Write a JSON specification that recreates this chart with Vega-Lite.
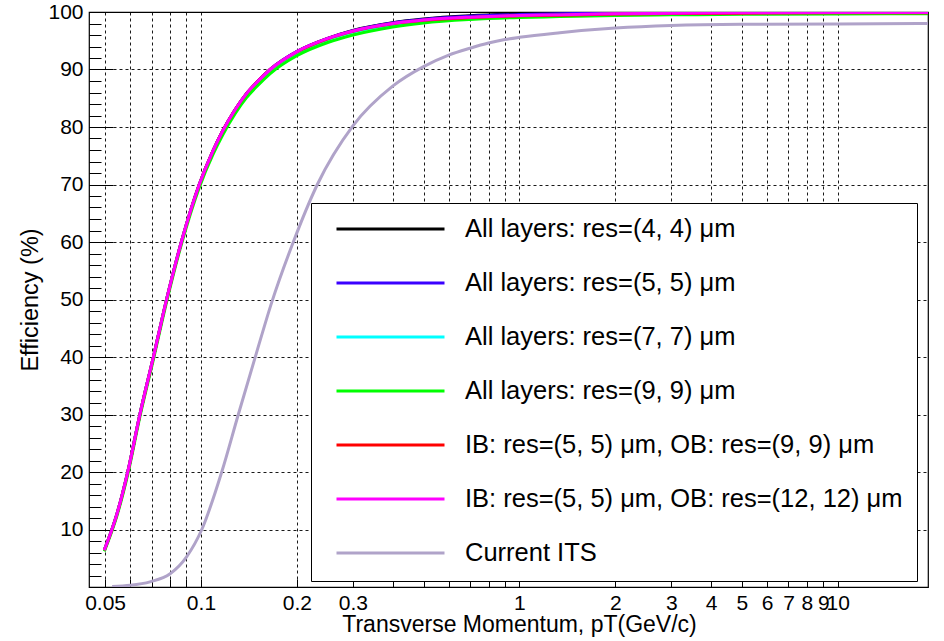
{
  "$schema": "https://vega.github.io/schema/vega-lite/v6.json",
  "width": 839,
  "height": 575,
  "autosize": {"type": "none"},
  "padding": {"left": 89, "top": 12, "right": 16, "bottom": 54},
  "background": "white",
  "config": {
    "font": "Liberation Sans",
    "view": {"stroke": "#000", "strokeWidth": 1.2}
  },
  "datasets": {
    "curves": [
      {"series": "All layers: res=(4, 4) μm", "pt": 0.0497, "eff": 6.4},
      {"series": "All layers: res=(4, 4) μm", "pt": 0.0546, "eff": 12.9},
      {"series": "All layers: res=(4, 4) μm", "pt": 0.0589, "eff": 20},
      {"series": "All layers: res=(4, 4) μm", "pt": 0.0643, "eff": 30},
      {"series": "All layers: res=(4, 4) μm", "pt": 0.0709, "eff": 40},
      {"series": "All layers: res=(4, 4) μm", "pt": 0.078, "eff": 50},
      {"series": "All layers: res=(4, 4) μm", "pt": 0.0868, "eff": 60},
      {"series": "All layers: res=(4, 4) μm", "pt": 0.0988, "eff": 70},
      {"series": "All layers: res=(4, 4) μm", "pt": 0.109, "eff": 75.8},
      {"series": "All layers: res=(4, 4) μm", "pt": 0.117, "eff": 79.3},
      {"series": "All layers: res=(4, 4) μm", "pt": 0.128, "eff": 83},
      {"series": "All layers: res=(4, 4) μm", "pt": 0.139, "eff": 85.8},
      {"series": "All layers: res=(4, 4) μm", "pt": 0.15, "eff": 87.8},
      {"series": "All layers: res=(4, 4) μm", "pt": 0.165, "eff": 90},
      {"series": "All layers: res=(4, 4) μm", "pt": 0.2, "eff": 93.1},
      {"series": "All layers: res=(4, 4) μm", "pt": 0.25, "eff": 95.4},
      {"series": "All layers: res=(4, 4) μm", "pt": 0.3, "eff": 96.8},
      {"series": "All layers: res=(4, 4) μm", "pt": 0.4, "eff": 98.15},
      {"series": "All layers: res=(4, 4) μm", "pt": 0.5, "eff": 98.8},
      {"series": "All layers: res=(4, 4) μm", "pt": 0.7, "eff": 99.35},
      {"series": "All layers: res=(4, 4) μm", "pt": 1, "eff": 99.65},
      {"series": "All layers: res=(4, 4) μm", "pt": 1.34, "eff": 99.8},
      {"series": "All layers: res=(4, 4) μm", "pt": 2, "eff": 99.92},
      {"series": "All layers: res=(4, 4) μm", "pt": 3, "eff": 99.96},
      {"series": "All layers: res=(4, 4) μm", "pt": 5, "eff": 100},
      {"series": "All layers: res=(4, 4) μm", "pt": 10, "eff": 100},
      {"series": "All layers: res=(4, 4) μm", "pt": 19.2, "eff": 100},

      {"series": "All layers: res=(5, 5) μm", "pt": 0.0497, "eff": 6.4},
      {"series": "All layers: res=(5, 5) μm", "pt": 0.0546, "eff": 12.9},
      {"series": "All layers: res=(5, 5) μm", "pt": 0.0589, "eff": 20},
      {"series": "All layers: res=(5, 5) μm", "pt": 0.0643, "eff": 30},
      {"series": "All layers: res=(5, 5) μm", "pt": 0.0709, "eff": 40},
      {"series": "All layers: res=(5, 5) μm", "pt": 0.078, "eff": 50},
      {"series": "All layers: res=(5, 5) μm", "pt": 0.0868, "eff": 60},
      {"series": "All layers: res=(5, 5) μm", "pt": 0.0988, "eff": 70},
      {"series": "All layers: res=(5, 5) μm", "pt": 0.109, "eff": 75.8},
      {"series": "All layers: res=(5, 5) μm", "pt": 0.117, "eff": 79.3},
      {"series": "All layers: res=(5, 5) μm", "pt": 0.128, "eff": 83},
      {"series": "All layers: res=(5, 5) μm", "pt": 0.139, "eff": 85.8},
      {"series": "All layers: res=(5, 5) μm", "pt": 0.15, "eff": 87.8},
      {"series": "All layers: res=(5, 5) μm", "pt": 0.165, "eff": 90},
      {"series": "All layers: res=(5, 5) μm", "pt": 0.2, "eff": 93.1},
      {"series": "All layers: res=(5, 5) μm", "pt": 0.25, "eff": 95.4},
      {"series": "All layers: res=(5, 5) μm", "pt": 0.3, "eff": 96.75},
      {"series": "All layers: res=(5, 5) μm", "pt": 0.4, "eff": 98.1},
      {"series": "All layers: res=(5, 5) μm", "pt": 0.5, "eff": 98.7},
      {"series": "All layers: res=(5, 5) μm", "pt": 0.7, "eff": 99.25},
      {"series": "All layers: res=(5, 5) μm", "pt": 1, "eff": 99.55},
      {"series": "All layers: res=(5, 5) μm", "pt": 1.34, "eff": 99.7},
      {"series": "All layers: res=(5, 5) μm", "pt": 2, "eff": 99.85},
      {"series": "All layers: res=(5, 5) μm", "pt": 3, "eff": 99.92},
      {"series": "All layers: res=(5, 5) μm", "pt": 5, "eff": 99.95},
      {"series": "All layers: res=(5, 5) μm", "pt": 10, "eff": 100},
      {"series": "All layers: res=(5, 5) μm", "pt": 19.2, "eff": 100},

      {"series": "All layers: res=(7, 7) μm", "pt": 0.0497, "eff": 6.4},
      {"series": "All layers: res=(7, 7) μm", "pt": 0.0546, "eff": 12.9},
      {"series": "All layers: res=(7, 7) μm", "pt": 0.0589, "eff": 20},
      {"series": "All layers: res=(7, 7) μm", "pt": 0.0643, "eff": 30},
      {"series": "All layers: res=(7, 7) μm", "pt": 0.0709, "eff": 40},
      {"series": "All layers: res=(7, 7) μm", "pt": 0.078, "eff": 50},
      {"series": "All layers: res=(7, 7) μm", "pt": 0.0868, "eff": 60},
      {"series": "All layers: res=(7, 7) μm", "pt": 0.0988, "eff": 69.9},
      {"series": "All layers: res=(7, 7) μm", "pt": 0.109, "eff": 75.7},
      {"series": "All layers: res=(7, 7) μm", "pt": 0.117, "eff": 79.1},
      {"series": "All layers: res=(7, 7) μm", "pt": 0.128, "eff": 82.8},
      {"series": "All layers: res=(7, 7) μm", "pt": 0.139, "eff": 85.6},
      {"series": "All layers: res=(7, 7) μm", "pt": 0.15, "eff": 87.6},
      {"series": "All layers: res=(7, 7) μm", "pt": 0.165, "eff": 89.8},
      {"series": "All layers: res=(7, 7) μm", "pt": 0.2, "eff": 92.9},
      {"series": "All layers: res=(7, 7) μm", "pt": 0.25, "eff": 95.2},
      {"series": "All layers: res=(7, 7) μm", "pt": 0.3, "eff": 96.5},
      {"series": "All layers: res=(7, 7) μm", "pt": 0.4, "eff": 97.8},
      {"series": "All layers: res=(7, 7) μm", "pt": 0.5, "eff": 98.45},
      {"series": "All layers: res=(7, 7) μm", "pt": 0.7, "eff": 99.0},
      {"series": "All layers: res=(7, 7) μm", "pt": 1, "eff": 99.3},
      {"series": "All layers: res=(7, 7) μm", "pt": 1.34, "eff": 99.45},
      {"series": "All layers: res=(7, 7) μm", "pt": 2, "eff": 99.65},
      {"series": "All layers: res=(7, 7) μm", "pt": 3, "eff": 99.75},
      {"series": "All layers: res=(7, 7) μm", "pt": 5, "eff": 99.8},
      {"series": "All layers: res=(7, 7) μm", "pt": 10, "eff": 99.85},
      {"series": "All layers: res=(7, 7) μm", "pt": 19.2, "eff": 99.85},

      {"series": "All layers: res=(9, 9) μm", "pt": 0.0497, "eff": 6.2},
      {"series": "All layers: res=(9, 9) μm", "pt": 0.0546, "eff": 12.6},
      {"series": "All layers: res=(9, 9) μm", "pt": 0.0589, "eff": 19.6},
      {"series": "All layers: res=(9, 9) μm", "pt": 0.0643, "eff": 29.6},
      {"series": "All layers: res=(9, 9) μm", "pt": 0.0709, "eff": 39.6},
      {"series": "All layers: res=(9, 9) μm", "pt": 0.078, "eff": 49.6},
      {"series": "All layers: res=(9, 9) μm", "pt": 0.0868, "eff": 59.6},
      {"series": "All layers: res=(9, 9) μm", "pt": 0.0988, "eff": 69.5},
      {"series": "All layers: res=(9, 9) μm", "pt": 0.109, "eff": 75.2},
      {"series": "All layers: res=(9, 9) μm", "pt": 0.117, "eff": 78.6},
      {"series": "All layers: res=(9, 9) μm", "pt": 0.128, "eff": 82.3},
      {"series": "All layers: res=(9, 9) μm", "pt": 0.139, "eff": 85.1},
      {"series": "All layers: res=(9, 9) μm", "pt": 0.15, "eff": 87.1},
      {"series": "All layers: res=(9, 9) μm", "pt": 0.165, "eff": 89.3},
      {"series": "All layers: res=(9, 9) μm", "pt": 0.2, "eff": 92.4},
      {"series": "All layers: res=(9, 9) μm", "pt": 0.25, "eff": 94.7},
      {"series": "All layers: res=(9, 9) μm", "pt": 0.3, "eff": 96.0},
      {"series": "All layers: res=(9, 9) μm", "pt": 0.4, "eff": 97.4},
      {"series": "All layers: res=(9, 9) μm", "pt": 0.5, "eff": 98.1},
      {"series": "All layers: res=(9, 9) μm", "pt": 0.7, "eff": 98.7},
      {"series": "All layers: res=(9, 9) μm", "pt": 1, "eff": 99.05},
      {"series": "All layers: res=(9, 9) μm", "pt": 1.34, "eff": 99.2},
      {"series": "All layers: res=(9, 9) μm", "pt": 2, "eff": 99.4},
      {"series": "All layers: res=(9, 9) μm", "pt": 3, "eff": 99.5},
      {"series": "All layers: res=(9, 9) μm", "pt": 5, "eff": 99.6},
      {"series": "All layers: res=(9, 9) μm", "pt": 10, "eff": 99.65},
      {"series": "All layers: res=(9, 9) μm", "pt": 19.2, "eff": 99.7},

      {"series": "IB: res=(5, 5) μm, OB: res=(9, 9) μm", "pt": 0.0497, "eff": 6.4},
      {"series": "IB: res=(5, 5) μm, OB: res=(9, 9) μm", "pt": 0.0546, "eff": 12.9},
      {"series": "IB: res=(5, 5) μm, OB: res=(9, 9) μm", "pt": 0.0589, "eff": 20},
      {"series": "IB: res=(5, 5) μm, OB: res=(9, 9) μm", "pt": 0.0643, "eff": 30},
      {"series": "IB: res=(5, 5) μm, OB: res=(9, 9) μm", "pt": 0.0709, "eff": 40},
      {"series": "IB: res=(5, 5) μm, OB: res=(9, 9) μm", "pt": 0.078, "eff": 50},
      {"series": "IB: res=(5, 5) μm, OB: res=(9, 9) μm", "pt": 0.0868, "eff": 60},
      {"series": "IB: res=(5, 5) μm, OB: res=(9, 9) μm", "pt": 0.0988, "eff": 70},
      {"series": "IB: res=(5, 5) μm, OB: res=(9, 9) μm", "pt": 0.109, "eff": 75.8},
      {"series": "IB: res=(5, 5) μm, OB: res=(9, 9) μm", "pt": 0.117, "eff": 79.3},
      {"series": "IB: res=(5, 5) μm, OB: res=(9, 9) μm", "pt": 0.128, "eff": 83},
      {"series": "IB: res=(5, 5) μm, OB: res=(9, 9) μm", "pt": 0.139, "eff": 85.8},
      {"series": "IB: res=(5, 5) μm, OB: res=(9, 9) μm", "pt": 0.15, "eff": 87.8},
      {"series": "IB: res=(5, 5) μm, OB: res=(9, 9) μm", "pt": 0.165, "eff": 90},
      {"series": "IB: res=(5, 5) μm, OB: res=(9, 9) μm", "pt": 0.2, "eff": 93.05},
      {"series": "IB: res=(5, 5) μm, OB: res=(9, 9) μm", "pt": 0.25, "eff": 95.35},
      {"series": "IB: res=(5, 5) μm, OB: res=(9, 9) μm", "pt": 0.3, "eff": 96.65},
      {"series": "IB: res=(5, 5) μm, OB: res=(9, 9) μm", "pt": 0.4, "eff": 97.95},
      {"series": "IB: res=(5, 5) μm, OB: res=(9, 9) μm", "pt": 0.5, "eff": 98.55},
      {"series": "IB: res=(5, 5) μm, OB: res=(9, 9) μm", "pt": 0.7, "eff": 99.05},
      {"series": "IB: res=(5, 5) μm, OB: res=(9, 9) μm", "pt": 1, "eff": 99.35},
      {"series": "IB: res=(5, 5) μm, OB: res=(9, 9) μm", "pt": 1.34, "eff": 99.45},
      {"series": "IB: res=(5, 5) μm, OB: res=(9, 9) μm", "pt": 2, "eff": 99.65},
      {"series": "IB: res=(5, 5) μm, OB: res=(9, 9) μm", "pt": 3, "eff": 99.72},
      {"series": "IB: res=(5, 5) μm, OB: res=(9, 9) μm", "pt": 5, "eff": 99.8},
      {"series": "IB: res=(5, 5) μm, OB: res=(9, 9) μm", "pt": 10, "eff": 99.85},
      {"series": "IB: res=(5, 5) μm, OB: res=(9, 9) μm", "pt": 19.2, "eff": 99.85},

      {"series": "IB: res=(5, 5) μm, OB: res=(12, 12) μm", "pt": 0.0497, "eff": 6.4},
      {"series": "IB: res=(5, 5) μm, OB: res=(12, 12) μm", "pt": 0.0546, "eff": 12.9},
      {"series": "IB: res=(5, 5) μm, OB: res=(12, 12) μm", "pt": 0.0589, "eff": 20},
      {"series": "IB: res=(5, 5) μm, OB: res=(12, 12) μm", "pt": 0.0643, "eff": 30},
      {"series": "IB: res=(5, 5) μm, OB: res=(12, 12) μm", "pt": 0.0709, "eff": 40},
      {"series": "IB: res=(5, 5) μm, OB: res=(12, 12) μm", "pt": 0.078, "eff": 50},
      {"series": "IB: res=(5, 5) μm, OB: res=(12, 12) μm", "pt": 0.0868, "eff": 60},
      {"series": "IB: res=(5, 5) μm, OB: res=(12, 12) μm", "pt": 0.0988, "eff": 70},
      {"series": "IB: res=(5, 5) μm, OB: res=(12, 12) μm", "pt": 0.109, "eff": 75.8},
      {"series": "IB: res=(5, 5) μm, OB: res=(12, 12) μm", "pt": 0.117, "eff": 79.3},
      {"series": "IB: res=(5, 5) μm, OB: res=(12, 12) μm", "pt": 0.128, "eff": 83},
      {"series": "IB: res=(5, 5) μm, OB: res=(12, 12) μm", "pt": 0.139, "eff": 85.8},
      {"series": "IB: res=(5, 5) μm, OB: res=(12, 12) μm", "pt": 0.15, "eff": 87.8},
      {"series": "IB: res=(5, 5) μm, OB: res=(12, 12) μm", "pt": 0.165, "eff": 90},
      {"series": "IB: res=(5, 5) μm, OB: res=(12, 12) μm", "pt": 0.2, "eff": 93.1},
      {"series": "IB: res=(5, 5) μm, OB: res=(12, 12) μm", "pt": 0.25, "eff": 95.4},
      {"series": "IB: res=(5, 5) μm, OB: res=(12, 12) μm", "pt": 0.3, "eff": 96.7},
      {"series": "IB: res=(5, 5) μm, OB: res=(12, 12) μm", "pt": 0.4, "eff": 98.0},
      {"series": "IB: res=(5, 5) μm, OB: res=(12, 12) μm", "pt": 0.5, "eff": 98.6},
      {"series": "IB: res=(5, 5) μm, OB: res=(12, 12) μm", "pt": 0.7, "eff": 99.1},
      {"series": "IB: res=(5, 5) μm, OB: res=(12, 12) μm", "pt": 1, "eff": 99.4},
      {"series": "IB: res=(5, 5) μm, OB: res=(12, 12) μm", "pt": 1.34, "eff": 99.5},
      {"series": "IB: res=(5, 5) μm, OB: res=(12, 12) μm", "pt": 2, "eff": 99.7},
      {"series": "IB: res=(5, 5) μm, OB: res=(12, 12) μm", "pt": 3, "eff": 99.77},
      {"series": "IB: res=(5, 5) μm, OB: res=(12, 12) μm", "pt": 5, "eff": 99.85},
      {"series": "IB: res=(5, 5) μm, OB: res=(12, 12) μm", "pt": 10, "eff": 99.9},
      {"series": "IB: res=(5, 5) μm, OB: res=(12, 12) μm", "pt": 19.2, "eff": 99.9},

      {"series": "Current ITS", "pt": 0.0526, "eff": 0.1},
      {"series": "Current ITS", "pt": 0.06, "eff": 0.3},
      {"series": "Current ITS", "pt": 0.0692, "eff": 0.9},
      {"series": "Current ITS", "pt": 0.08, "eff": 2.3},
      {"series": "Current ITS", "pt": 0.09, "eff": 5.2},
      {"series": "Current ITS", "pt": 0.1006, "eff": 10},
      {"series": "Current ITS", "pt": 0.1162, "eff": 20},
      {"series": "Current ITS", "pt": 0.131, "eff": 30},
      {"series": "Current ITS", "pt": 0.149, "eff": 40.5},
      {"series": "Current ITS", "pt": 0.1668, "eff": 49.5},
      {"series": "Current ITS", "pt": 0.195, "eff": 60},
      {"series": "Current ITS", "pt": 0.232, "eff": 70},
      {"series": "Current ITS", "pt": 0.3, "eff": 80.2},
      {"series": "Current ITS", "pt": 0.4, "eff": 87.1},
      {"series": "Current ITS", "pt": 0.5, "eff": 90.5},
      {"series": "Current ITS", "pt": 0.6, "eff": 92.5},
      {"series": "Current ITS", "pt": 0.7, "eff": 93.7},
      {"series": "Current ITS", "pt": 0.8, "eff": 94.6},
      {"series": "Current ITS", "pt": 0.9, "eff": 95.2},
      {"series": "Current ITS", "pt": 1, "eff": 95.6},
      {"series": "Current ITS", "pt": 1.34, "eff": 96.4},
      {"series": "Current ITS", "pt": 2, "eff": 97.2},
      {"series": "Current ITS", "pt": 3, "eff": 97.65},
      {"series": "Current ITS", "pt": 5, "eff": 97.85},
      {"series": "Current ITS", "pt": 10, "eff": 97.9},
      {"series": "Current ITS", "pt": 19.2, "eff": 98.0}
    ]
  },
  "data": {"name": "curves"},
  "layer": [
    {
      "transform": [{"filter": "datum.series != 'IB: res=(5, 5) μm, OB: res=(12, 12) μm'"}],
      "mark": {"type": "line", "strokeWidth": 3, "interpolate": "monotone", "clip": true},
      "encoding": {
        "x": {
          "field": "pt", "type": "quantitative",
          "scale": {"type": "log", "domain": [0.0445, 19.2], "nice": false},
          "axis": {
            "orient": "bottom",
            "values": [0.05, 0.06, 0.07, 0.08, 0.09, 0.1, 0.2, 0.3, 0.4, 0.5, 0.6, 0.7, 0.8, 0.9, 1, 2, 3, 4, 5, 6, 7, 8, 9, 10],
            "format": "~g",
            "labelExpr": "indexof([0.05, 0.1, 0.2, 0.3, 1, 2, 3, 4, 5, 6, 7, 8, 9, 10], datum.value) >= 0 ? datum.label : ''",
            "grid": true, "gridColor": "#000", "gridDash": [3, 3], "gridWidth": 1, "gridOpacity": 0.9,
            "ticks": false, "domain": false,
            "labelFontSize": 21, "labelColor": "#000", "labelPadding": 5,
            "labelOverlap": false, "labelFlush": false,
            "title": "Transverse Momentum, pT(GeV/c)",
            "titleFontSize": 23, "titleFontWeight": "normal", "titleColor": "#000",
            "titlePadding": 0, "titleX": 430, "titleAlign": "center"
          }
        },
        "y": {
          "field": "eff", "type": "quantitative",
          "scale": {"domain": [0, 100], "nice": false},
          "axis": {
            "orient": "left",
            "values": [10, 20, 30, 40, 50, 60, 70, 80, 90, 100],
            "grid": true, "gridColor": "#000", "gridDash": [3, 3], "gridWidth": 1, "gridOpacity": 0.9,
            "ticks": false, "domain": false,
            "labelFontSize": 21, "labelColor": "#000", "labelPadding": 6,
            "title": "Efficiency (%)",
            "titleFontSize": 23.5, "titleFontWeight": "normal", "titleColor": "#000", "titlePadding": 5
          }
        },
        "color": {
          "field": "series", "type": "nominal",
          "scale": {
            "domain": [
              "All layers: res=(4, 4) μm",
              "All layers: res=(5, 5) μm",
              "All layers: res=(7, 7) μm",
              "All layers: res=(9, 9) μm",
              "IB: res=(5, 5) μm, OB: res=(9, 9) μm",
              "IB: res=(5, 5) μm, OB: res=(12, 12) μm",
              "Current ITS"
            ],
            "range": ["#000000", "#3a00ff", "#00ffff", "#00ff00", "#ff0000", "#ff00ff", "#b0a3c9"]
          },
          "legend": {
            "orient": "none", "legendX": 222, "legendY": 191,
            "title": null,
            "symbolType": "stroke", "symbolSize": 11664, "symbolStrokeWidth": 3,
            "symbolOffset": 10, "labelOffset": 19,
            "clipHeight": 24,
            "labelFontSize": 25.5, "labelColor": "#000", "labelLimit": 700,
            "rowPadding": 28, "padding": 14,
            "fillColor": "#ffffff", "strokeColor": "#000000"
          }
        }
      }
    },
    {
      "transform": [{"filter": "datum.series == 'IB: res=(5, 5) μm, OB: res=(12, 12) μm'"}],
      "mark": {"type": "line", "strokeWidth": 3, "interpolate": "monotone", "clip": true},
      "encoding": {
        "x": {"field": "pt", "type": "quantitative", "scale": {"type": "log", "domain": [0.0445, 19.2], "nice": false}, "axis": null},
        "y": {"field": "eff", "type": "quantitative", "scale": {"domain": [0, 100], "nice": false}, "axis": null},
        "color": {"field": "series", "type": "nominal"}
      }
    },
    {
      "mark": {"type": "line", "opacity": 0},
      "encoding": {
        "x": {
          "field": "pt", "type": "quantitative",
          "scale": {"type": "log", "domain": [0.0445, 19.2], "nice": false},
          "axis": {
            "orient": "bottom",
            "values": [0.05, 0.06, 0.07, 0.08, 0.09, 0.1, 0.2, 0.3, 0.4, 0.5, 0.6, 0.7, 0.8, 0.9, 1, 2, 3, 4, 5, 6, 7, 8, 9, 10],
            "labels": false, "grid": false, "domain": false, "ticks": true,
            "tickSize": -8, "tickColor": "#000", "tickWidth": 1, "title": null
          }
        },
        "y": {
          "field": "eff", "type": "quantitative",
          "scale": {"domain": [0, 100], "nice": false},
          "axis": {
            "orient": "left",
            "values": [10, 20, 30, 40, 50, 60, 70, 80, 90],
            "labels": false, "grid": false, "domain": false, "ticks": true,
            "tickSize": -24, "tickColor": "#000", "tickWidth": 1, "title": null
          }
        },
        "detail": {"field": "series", "type": "nominal"}
      }
    },
    {
      "mark": {"type": "line", "opacity": 0},
      "encoding": {
        "x": {"field": "pt", "type": "quantitative", "scale": {"type": "log", "domain": [0.0445, 19.2], "nice": false}, "axis": null},
        "y": {
          "field": "eff", "type": "quantitative",
          "scale": {"domain": [0, 100], "nice": false},
          "axis": {
            "orient": "left",
            "values": [2, 4, 6, 8, 12, 14, 16, 18, 22, 24, 26, 28, 32, 34, 36, 38, 42, 44, 46, 48, 52, 54, 56, 58, 62, 64, 66, 68, 72, 74, 76, 78, 82, 84, 86, 88, 92, 94, 96, 98],
            "labels": false, "grid": false, "domain": false, "ticks": true,
            "tickSize": -12, "tickColor": "#000", "tickWidth": 1, "title": null
          }
        },
        "detail": {"field": "series", "type": "nominal"}
      }
    }
  ],
  "resolve": {"axis": {"x": "independent", "y": "independent"}}
}
